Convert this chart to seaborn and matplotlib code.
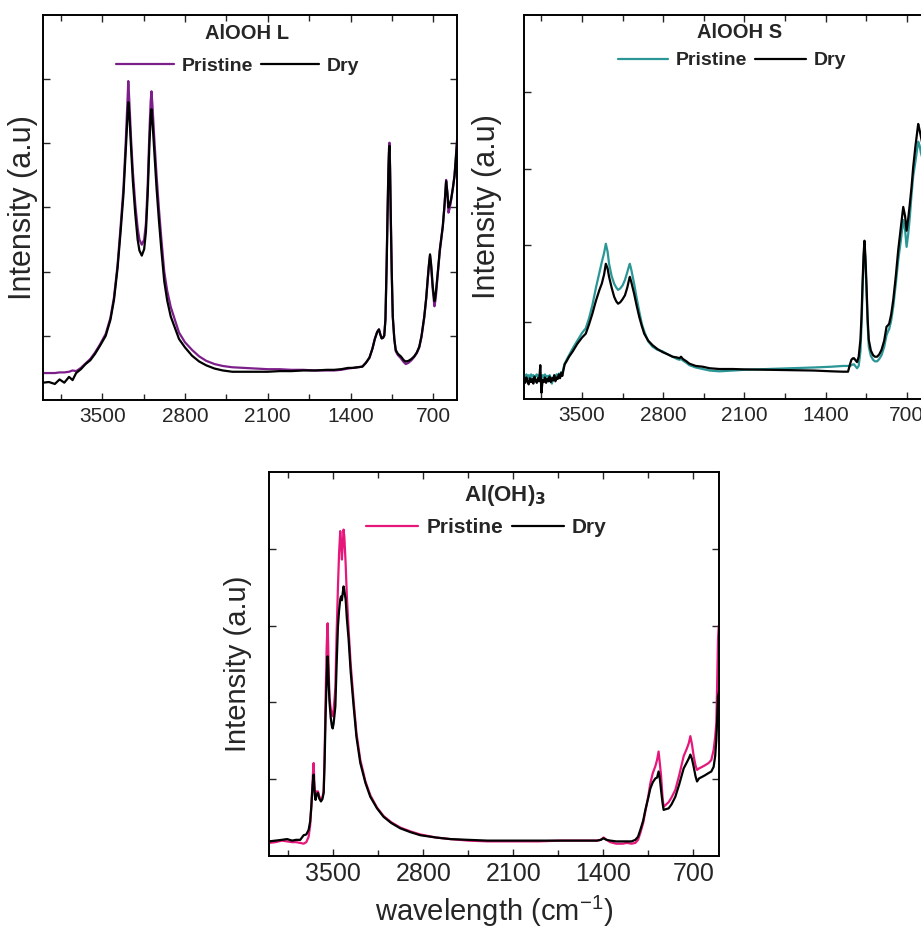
#FTIR spectra of the three aluminium hydroxides, pristine vs dry
import pandas as pd
import matplotlib.pyplot as plt
import seaborn as sns
from matplotlib.ticker import FixedLocator, MultipleLocator

# ---------------- AlOOH L ----------------
l_wn = [4000, 3950, 3900, 3860, 3820, 3780, 3750, 3720, 3680, 3640,
        3600, 3560, 3520, 3470, 3430, 3400, 3370, 3345, 3320, 3300,
        3285, 3279, 3270, 3255, 3240, 3220, 3200, 3185, 3165, 3145,
        3130, 3115, 3100, 3090, 3083, 3075, 3060, 3040, 3020, 3000,
        2975, 2950, 2920, 2880, 2850, 2800, 2740, 2680, 2620, 2550,
        2480, 2400, 2300, 2200, 2100, 2000, 1900, 1800, 1700, 1600,
        1540, 1480, 1420, 1380, 1340, 1300, 1270, 1240, 1215, 1195,
        1175, 1160, 1148, 1137, 1125, 1115, 1105, 1095, 1087, 1080,
        1075, 1071, 1066, 1060, 1052, 1043, 1030, 1018, 1000, 975,
        950, 933, 910, 885, 862, 840, 819, 800, 777, 760,
        748, 738, 728, 718, 705, 691, 680, 663, 645, 620,
        605, 592, 582, 572, 560, 549, 535, 521, 510, 500]
l_dry = [0.27, 0.28, 0.25, 0.32, 0.27, 0.36, 0.31, 0.42, 0.48, 0.56,
         0.62, 0.72, 0.84, 1.00, 1.25, 1.56, 2.05, 2.60, 3.20, 3.90,
         4.45, 4.64, 4.45, 3.90, 3.40, 2.90, 2.50, 2.33, 2.25, 2.35,
         2.62, 3.20, 4.00, 4.40, 4.53, 4.35, 3.90, 3.30, 2.80, 2.35,
         1.85, 1.55, 1.30, 1.10, 0.95, 0.82, 0.69, 0.60, 0.54, 0.49,
         0.46, 0.44, 0.44, 0.44, 0.44, 0.45, 0.45, 0.46, 0.46, 0.47,
         0.47, 0.48, 0.50, 0.50, 0.51, 0.52, 0.58, 0.66, 0.80, 0.95,
         1.06, 1.10, 1.02, 0.96, 0.97, 1.00, 1.25, 2.08, 2.90, 3.55,
         3.85, 3.96, 3.60, 2.86, 2.00, 1.30, 0.95, 0.78, 0.72, 0.68,
         0.62, 0.60, 0.61, 0.64, 0.68, 0.74, 0.83, 1.00, 1.30, 1.60,
         1.88, 2.10, 2.27, 2.10, 1.77, 1.54, 1.65, 1.98, 2.35, 2.71,
         3.05, 3.41, 3.25, 3.00, 3.05, 3.14, 3.30, 3.49, 3.75, 4.01]
l_pristine = [0.42, 0.42, 0.42, 0.43, 0.43, 0.44, 0.46, 0.45, 0.50, 0.57,
              0.64, 0.74, 0.86, 1.03, 1.28, 1.60, 2.10, 2.68, 3.30, 4.05,
              4.70, 4.97, 4.65, 4.05, 3.55, 3.05, 2.68, 2.50, 2.42, 2.50,
              2.75, 3.35, 4.20, 4.65, 4.81, 4.60, 4.10, 3.50, 2.98, 2.52,
              2.00, 1.70, 1.45, 1.22, 1.05, 0.90, 0.78, 0.68, 0.61, 0.56,
              0.53, 0.51, 0.50, 0.49, 0.48, 0.48, 0.47, 0.47, 0.46, 0.46,
              0.46, 0.47, 0.49, 0.50, 0.51, 0.52, 0.58, 0.66, 0.80, 0.95,
              1.06, 1.10, 1.02, 0.96, 0.97, 1.01, 1.27, 2.12, 2.95, 3.62,
              3.92, 4.01, 3.65, 2.90, 2.02, 1.30, 0.95, 0.76, 0.70, 0.65,
              0.59, 0.56, 0.58, 0.62, 0.67, 0.73, 0.82, 0.98, 1.28, 1.58,
              1.86, 2.08, 2.25, 2.06, 1.72, 1.46, 1.58, 1.95, 2.32, 2.70,
              3.05, 3.43, 3.22, 2.92, 3.00, 3.12, 3.30, 3.50, 3.78, 4.05]

# ---------------- AlOOH S ----------------
s_wn = [4000, 3990, 3980, 3970, 3960, 3950, 3940, 3930, 3920, 3910,
        3900, 3890, 3880, 3870, 3860, 3850, 3840, 3830, 3820, 3810,
        3800, 3790, 3780, 3770, 3760, 3750, 3740, 3730, 3720, 3710,
        3700, 3690, 3680, 3670, 3660, 3650,
        3630, 3612, 3580, 3540, 3500, 3468, 3440, 3411, 3380, 3350,
        3330, 3310, 3295, 3280, 3267, 3245, 3223, 3205, 3189, 3170,
        3150, 3130, 3110, 3095, 3088, 3075, 3051, 3030, 3007, 2985,
        2964, 2930, 2892, 2850, 2806, 2760, 2719, 2680, 2660, 2647,
        2630, 2600, 2575, 2520, 2460, 2400, 2316, 2200, 2100, 1900,
        1700, 1500, 1350, 1250, 1207, 1190, 1178, 1165, 1155, 1140,
        1129, 1115, 1100, 1090, 1082, 1072, 1065, 1057, 1048, 1038,
        1028, 1010, 991, 975, 956, 938, 918, 895, 875, 862,
        852, 835, 817, 795, 774, 750, 731, 715, 702, 688,
        674, 660, 645, 625, 602, 590, 578, 550, 520, 500]
s_dry = [0.25, 0.21, 0.28, 0.23, 0.19, 0.27, 0.22, 0.26, 0.20, 0.29,
         0.24, 0.21, 0.27, 0.23, 0.44, 0.08, 0.25, 0.22, 0.28, 0.21,
         0.26, 0.23, 0.29, 0.22, 0.27, 0.24, 0.31, 0.23, 0.28, 0.26,
         0.32, 0.27, 0.34, 0.30, 0.38, 0.45,
         0.50, 0.55, 0.62, 0.72, 0.80, 0.85, 0.97, 1.11, 1.28, 1.42,
         1.50, 1.62, 1.76, 1.70, 1.59, 1.45, 1.33, 1.27, 1.24, 1.26,
         1.30, 1.35, 1.45, 1.55, 1.59, 1.52, 1.37, 1.22, 1.07, 0.95,
         0.85, 0.76, 0.70, 0.65, 0.61, 0.58, 0.55, 0.54, 0.53, 0.55,
         0.52, 0.49, 0.46, 0.43, 0.42, 0.40, 0.39, 0.39, 0.385, 0.38,
         0.375, 0.37, 0.36, 0.355, 0.355, 0.45, 0.51, 0.53, 0.53, 0.50,
         0.48, 0.55, 0.77, 1.10, 1.50, 1.90, 2.06, 1.85, 1.50, 1.05,
         0.77, 0.63, 0.57, 0.55, 0.55, 0.58, 0.64, 0.76, 0.94, 0.96,
         0.98, 1.10, 1.29, 1.60, 1.94, 2.25, 2.50, 2.38, 2.19, 2.35,
         2.54, 2.75, 3.02, 3.30, 3.58, 3.50, 3.41, 3.20, 3.05, 2.95]
s_pristine = [0.30, 0.27, 0.32, 0.28, 0.31, 0.26, 0.32, 0.29, 0.31, 0.27,
              0.30, 0.32, 0.28, 0.31, 0.29, 0.27, 0.31, 0.28, 0.32, 0.29,
              0.30, 0.27, 0.31, 0.28, 0.20, 0.27, 0.30, 0.28, 0.32, 0.30,
              0.33, 0.30, 0.35, 0.33, 0.40, 0.46,
              0.52, 0.57, 0.66, 0.76, 0.86, 0.92, 1.05, 1.22, 1.45, 1.65,
              1.78, 1.90, 2.02, 1.92, 1.76, 1.60, 1.50, 1.45, 1.42, 1.44,
              1.48, 1.55, 1.65, 1.73, 1.76, 1.68, 1.50, 1.32, 1.14, 0.98,
              0.88, 0.75, 0.68, 0.64, 0.62, 0.58, 0.55, 0.52, 0.51, 0.52,
              0.50, 0.47, 0.44, 0.41, 0.39, 0.37, 0.36, 0.37, 0.38, 0.39,
              0.40, 0.41, 0.42, 0.43, 0.43, 0.43, 0.44, 0.45, 0.45, 0.42,
              0.40, 0.43, 0.62, 0.98, 1.40, 1.85, 1.98, 1.80, 1.42, 0.98,
              0.68, 0.56, 0.51, 0.49, 0.49, 0.52, 0.57, 0.68, 0.83, 0.88,
              0.91, 1.02, 1.20, 1.50, 1.81, 2.08, 2.33, 2.20, 1.98, 2.15,
              2.37, 2.65, 2.90, 3.10, 3.35, 3.30, 3.20, 3.05, 2.95, 2.90]

# ---------------- Al(OH)3 ----------------
g_wn = [4000, 3950, 3900, 3860, 3820, 3790, 3757, 3731, 3710, 3692,
        3680, 3671, 3662, 3656, 3653, 3648, 3643, 3638, 3630, 3619,
        3610, 3596, 3585, 3575, 3568, 3560, 3552, 3546, 3544, 3540,
        3535, 3529, 3520, 3512, 3505, 3498, 3490, 3484, 3475, 3464,
        3455, 3446, 3440, 3433, 3427, 3420, 3414, 3404, 3395, 3381,
        3365, 3342, 3320, 3290, 3250, 3212, 3160, 3109, 3050, 2979,
        2900, 2823, 2700, 2590, 2450, 2300, 2100, 1900, 1734, 1600,
        1449, 1420, 1398, 1375, 1346, 1300, 1250, 1216, 1180, 1151,
        1130, 1112, 1090, 1073, 1050, 1034, 1015, 995, 982, 970,
        960, 951, 940, 931, 912, 892, 870, 840, 810, 775,
        750, 735, 723, 710, 697, 683, 671, 655, 632, 610,
        581, 560, 542, 530, 521, 515, 508, 502, 500]
g_dry = [0.19, 0.20, 0.21, 0.22, 0.20, 0.21, 0.21, 0.27, 0.28, 0.34,
         0.45, 0.64, 0.90, 1.02, 1.06, 0.90, 0.78, 0.73, 0.80, 0.82,
         0.75, 0.71, 0.74, 0.82, 1.20, 1.82, 2.30, 2.55, 2.60, 2.45,
         2.20, 1.99, 1.80, 1.70, 1.66, 1.72, 1.85, 1.95, 2.45, 2.99,
         3.20, 3.34, 3.38, 3.33, 3.42, 3.51, 3.45, 3.34, 3.10, 2.82,
         2.40, 1.95, 1.55, 1.21, 0.95, 0.77, 0.62, 0.51, 0.43, 0.36,
         0.31, 0.27, 0.24, 0.22, 0.21, 0.20, 0.20, 0.20, 0.20, 0.20,
         0.20, 0.21, 0.23, 0.21, 0.20, 0.19, 0.19, 0.19, 0.19, 0.21,
         0.25, 0.34, 0.46, 0.60, 0.76, 0.88, 0.96, 1.01, 1.02, 1.10,
         1.00, 0.86, 0.70, 0.60, 0.61, 0.62, 0.67, 0.77, 0.93, 1.14,
         1.22, 1.27, 1.32, 1.26, 1.16, 1.04, 0.97, 1.01, 1.03, 1.05,
         1.08, 1.10, 1.16, 1.30, 1.51, 1.75, 2.08, 2.12, 2.15]
g_pristine = [0.17, 0.18, 0.20, 0.19, 0.18, 0.18, 0.17, 0.16, 0.18, 0.25,
              0.40, 0.65, 0.95, 1.15, 1.21, 0.98, 0.82, 0.76, 0.84, 0.84,
              0.78, 0.73, 0.76, 0.85, 1.30, 2.05, 2.70, 2.98, 3.03, 2.75,
              2.35, 2.05, 1.92, 1.84, 1.82, 1.90, 2.05, 2.20, 2.85, 3.50,
              3.95, 4.23, 4.10, 3.86, 4.05, 4.25, 4.15, 3.80, 3.40, 2.95,
              2.50, 2.02, 1.60, 1.25, 0.97, 0.79, 0.63, 0.52, 0.44, 0.37,
              0.32, 0.28, 0.24, 0.22, 0.20, 0.19, 0.19, 0.19, 0.20, 0.20,
              0.20, 0.21, 0.24, 0.21, 0.18, 0.16, 0.16, 0.17, 0.16, 0.17,
              0.21, 0.30, 0.43, 0.58, 0.78, 0.95, 1.08, 1.17, 1.25, 1.36,
              1.20, 1.05, 0.78, 0.64, 0.67, 0.70, 0.76, 0.86, 1.05, 1.30,
              1.40, 1.47, 1.56, 1.45, 1.30, 1.18, 1.12, 1.14, 1.16, 1.18,
              1.21, 1.25, 1.38, 1.55, 1.73, 2.20, 2.82, 3.00, 3.00]

x_ticks = [3500, 2800, 2100, 1400, 700]

sns.set_style("ticks")
plt.rcParams['font.family'] = ['Liberation Sans', 'DejaVu Sans']
plt.rcParams['mathtext.default'] = 'regular'

fig = plt.figure(figsize=(9.21, 9.30), dpi=100)

# axes rect in figure fraction, title / legend spots in axes fraction
panels = [
    dict(rect=[0.0467, 0.5699, 0.4495, 0.414], wn=l_wn, pri=l_pristine, dry=l_dry,
         color="#7d1f8a", title="AlOOH L", title_xy=(0.493, 0.953),
         leg_xy=(0.47, 0.868), ylim=6.0, yticks=[1, 2, 3, 4, 5], ylab_x=-0.012,
         tick_fs=15, tick_pad=5, lab_fs=22, title_fs=14.5, leg_fs=14, hl=3.0),
    dict(rect=[0.569, 0.571, 0.4408, 0.413], wn=s_wn, pri=s_pristine, dry=s_dry,
         color="#2b9696", title="AlOOH S", title_xy=(0.532, 0.953),
         leg_xy=(0.512, 0.881), ylim=5.0, yticks=[1, 2, 3, 4], ylab_x=-0.054,
         tick_fs=15, tick_pad=5, lab_fs=22, title_fs=14.5, leg_fs=14, hl=2.6),
    dict(rect=[0.2921, 0.0796, 0.4886, 0.4129], wn=g_wn, pri=g_pristine, dry=g_dry,
         color="#e5177b", title=r"Al(OH)$_\mathbf{3}$", title_xy=(0.524, 0.94),
         leg_xy=(0.483, 0.855), ylim=5.0, yticks=[1, 2, 3, 4], ylab_x=-0.038,
         tick_fs=18, tick_pad=4, lab_fs=21, title_fs=16, leg_fs=15, hl=2.5),
]

for p in panels:
    ax = fig.add_axes(p["rect"])
    df = pd.DataFrame({"wn": p["wn"], "Pristine": p["pri"], "Dry": p["dry"]})
    sns.lineplot(data=df, x="wn", y="Pristine", ax=ax, color=p["color"], lw=1.6,
                 label="Pristine", estimator=None)
    sns.lineplot(data=df, x="wn", y="Dry", ax=ax, color="black", lw=1.6,
                 label="Dry", estimator=None)
    ax.set_xlim(4000, 500)
    ax.set_ylim(0, p["ylim"])
    ax.xaxis.set_major_locator(FixedLocator(x_ticks))
    ax.xaxis.set_minor_locator(MultipleLocator(350))
    ax.yaxis.set_major_locator(FixedLocator(p["yticks"]))
    ax.tick_params(which="both", direction="in", top=True, right=True,
                   width=1, labelleft=False, labelsize=p["tick_fs"], pad=p["tick_pad"])
    ax.tick_params(which="major", length=5)
    ax.tick_params(which="minor", length=4)
    for sp in ax.spines.values():
        sp.set_linewidth(1.4)
        sp.set_color("black")
    ax.set_ylabel("Intensity (a.u)", fontsize=p["lab_fs"])
    ax.yaxis.set_label_coords(p["ylab_x"], 0.5)
    ax.set_xlabel("")
    ax.text(p["title_xy"][0], p["title_xy"][1], p["title"], transform=ax.transAxes,
            ha="center", va="center", fontsize=p["title_fs"], fontweight="bold")
    ax.legend(loc="center", bbox_to_anchor=p["leg_xy"], ncol=2, frameon=False,
              prop={"weight": "bold", "size": p["leg_fs"]}, handlelength=p["hl"],
              handletextpad=0.4, columnspacing=0.4, borderpad=0, borderaxespad=0)

ax.set_xlabel(r"wavelength (cm$^{-1}$)", fontsize=21, labelpad=6)

plt.savefig("out.png", dpi=100)
